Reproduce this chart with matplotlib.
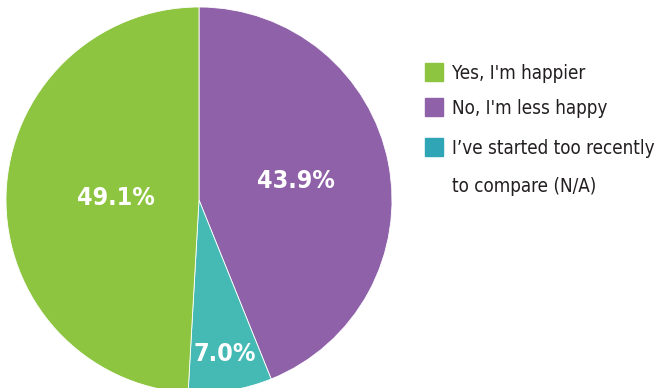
import numpy as np
import matplotlib.pyplot as plt
from matplotlib.patches import Rectangle

# data (clockwise from 12 o'clock)
answers = ["No, I'm less happy", "I\u2019ve started too recently\nto compare (N/A)", "Yes, I'm happier"]
shares = [43.9, 7.0, 49.1]
pie_colors = ["#8E61A8", "#45BAB5", "#8DC540"]

# legend order as in the original
legend_order = [2, 0, 1]
legend_colors = ["#8DC540", "#8E61A8", "#30A5B5"]

fig = plt.figure(figsize=(6.61, 3.88), dpi=100)
ax = fig.add_axes([0, 0, 1, 1])

cx, cy, r = 199, 188, 193
wedges, _ = ax.pie(shares, colors=pie_colors, startangle=90, counterclock=False,
                   center=(cx, cy), radius=r, frame=True,
                   wedgeprops=dict(linewidth=0.6, edgecolor="white"))

# label distances (fraction of radius) per wedge
label_dist = [0.51, 0.81, 0.43]
for w, v, d in zip(wedges, shares, label_dist):
    ang = np.deg2rad((w.theta1 + w.theta2) / 2)
    ax.text(cx + d * r * np.cos(ang), cy + d * r * np.sin(ang), f"{v:.1f}%",
            ha="center", va="center", color="white", fontsize=18,
            fontweight="bold", family="DejaVu Sans", stretch="condensed")

# legend drawn by hand so the swatch sits on the first text line
baselines = [79, 114, 154]
line_gap = 38
for k, (i, y) in enumerate(zip(legend_order, baselines)):
    ax.add_patch(Rectangle((425, 388 - y - 2), 18, 18, color=legend_colors[k]))
    # va="baseline" anchors the last line, so push multi-line labels down
    last = y + line_gap * answers[i].count("\n")
    ax.text(452, 388 - last, answers[i], ha="left", va="baseline",
            fontsize=13.5, color="#231F20", family="DejaVu Sans",
            stretch="condensed", linespacing=2.3)

ax.set_xlim(0, 661)
ax.set_ylim(0, 388)
ax.set_aspect("auto")
ax.axis("off")

plt.savefig("out.png", dpi=100)
